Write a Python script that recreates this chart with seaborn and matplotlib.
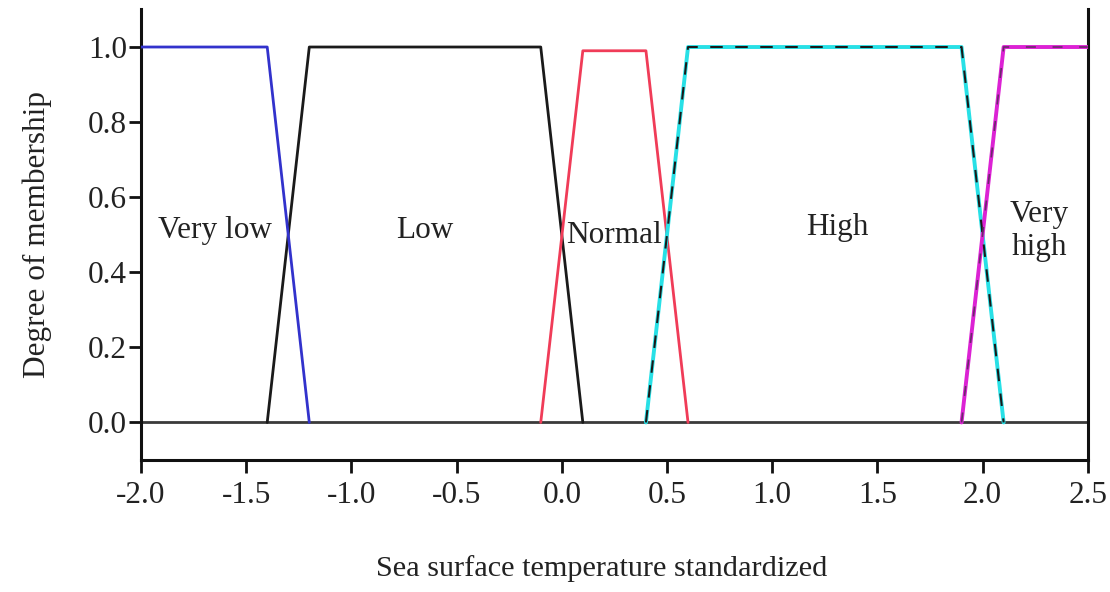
import matplotlib
matplotlib.use("Agg")
import matplotlib.pyplot as plt
import seaborn as sns

sns.set_theme(style="white")
plt.rcParams["font.family"] = ["Liberation Serif", "DejaVu Serif"]

# Trapezoidal membership functions for standardized sea surface temperature
# (only the non-zero stretch of each set; the zero level is the common baseline)
very_low_x = [-2.0, -1.4, -1.2]
very_low_y = [1.0, 1.0, 0.0]

low_x = [-1.4, -1.2, -0.1, 0.1]
low_y = [0.0, 1.0, 1.0, 0.0]

normal_x = [-0.1, 0.1, 0.4, 0.6]
normal_y = [0.0, 0.99, 0.99, 0.0]

high_x = [0.4, 0.6, 1.9, 2.1]
high_y = [0.0, 1.0, 1.0, 0.0]

very_high_x = [1.9, 2.1, 2.5]
very_high_y = [0.0, 1.0, 1.0]

set_names = ["Very low", "Low", "Normal", "High", "Very\nhigh"]
label_x = [-1.65, -0.65, 0.25, 1.31, 2.27]
label_y = [0.51, 0.51, 0.497, 0.52, 0.51]

x_ticks = [-2.0, -1.5, -1.0, -0.5, 0.0, 0.5, 1.0, 1.5, 2.0, 2.5]
y_ticks = [0.0, 0.2, 0.4, 0.6, 0.8, 1.0]

FS = 22.5
TEXT = "#222222"

fig = plt.figure(figsize=(11.1, 5.92), dpi=100)
ax = fig.add_axes([0.127, 0.223, 0.853, 0.761])

ax.axhline(0.0, color="#3a3a3a", lw=2.0, zorder=1)

sns.lineplot(x=low_x, y=low_y, ax=ax, color="#1a1a1a", lw=2.0, sort=False, zorder=2)
sns.lineplot(x=very_low_x, y=very_low_y, ax=ax, color="#3232cc", lw=2.0, sort=False, zorder=3)
sns.lineplot(x=normal_x, y=normal_y, ax=ax, color="#f03c58", lw=2.0, sort=False, zorder=2)
sns.lineplot(x=high_x, y=high_y, ax=ax, color="#28e0e6", lw=2.8, sort=False, zorder=3)
sns.lineplot(x=high_x, y=high_y, ax=ax, color="#1a1a1a", lw=1.5, sort=False, zorder=4,
             linestyle=(0, (6, 6)))
sns.lineplot(x=very_high_x, y=very_high_y, ax=ax, color="#dc22d4", lw=2.8, sort=False, zorder=3)
sns.lineplot(x=very_high_x, y=very_high_y, ax=ax, color="#6a2a6a", lw=1.2, sort=False, zorder=4,
             linestyle=(0, (6, 10)))

for name, tx, ty in zip(set_names, label_x, label_y):
    kw = {}
    if name == "Normal":
        kw["bbox"] = dict(facecolor="white", edgecolor="none", pad=0.5)
    ax.text(tx, ty, name, ha="center", va="center", fontsize=FS, color=TEXT,
            linespacing=1.15, zorder=6, **kw)

ax.set_xlim(-2.0, 2.5)
ax.set_ylim(-0.1, 1.1)
ax.set_xticks(x_ticks)
ax.set_yticks(y_ticks)
ax.set_xticklabels([f"{v:.1f}" for v in x_ticks])
ax.set_yticklabels([f"{v:.1f}" for v in y_ticks])

for side in ["left", "bottom", "right"]:
    ax.spines[side].set_visible(True)
    ax.spines[side].set_color("#111111")
    ax.spines[side].set_linewidth(2.2)
ax.spines["top"].set_visible(False)

ax.tick_params(axis="both", which="major", direction="out", length=9, width=2.0,
               colors="#111111", labelsize=FS, labelcolor=TEXT)
ax.tick_params(axis="x", bottom=True, top=False, pad=6)
ax.tick_params(axis="y", left=True, right=False, pad=1)

ax.set_xlabel("Sea surface temperature standardized", fontsize=21.8, color=TEXT)
ax.xaxis.set_label_coords(0.487, -0.212)
ax.set_ylabel("Degree of membership", fontsize=FS, color=TEXT, labelpad=26)

fig.savefig("out.png", dpi=100, facecolor="white")
